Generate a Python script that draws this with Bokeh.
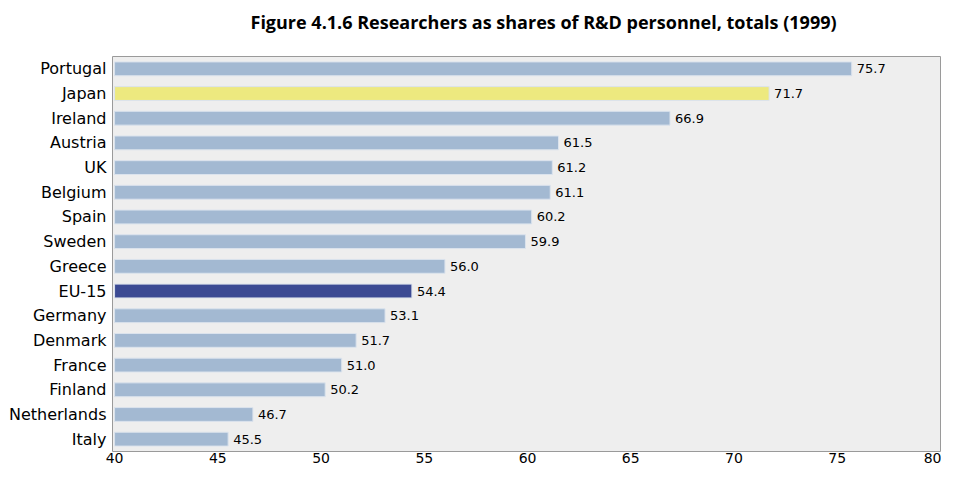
from bokeh.plotting import figure
from bokeh.models import ColumnDataSource, FactorRange, Range1d
from bokeh.embed import file_html
from bokeh.resources import INLINE
from bokeh.core.properties import value

countries = ["Portugal", "Japan", "Ireland", "Austria", "UK", "Belgium", "Spain", "Sweden",
             "Greece", "EU-15", "Germany", "Denmark", "France", "Finland", "Netherlands", "Italy"]
shares = [75.7, 71.7, 66.9, 61.5, 61.2, 61.1, 60.2, 59.9, 56.0, 54.4, 53.1, 51.7, 51.0, 50.2, 46.7, 45.5]
tick_values = [40, 45, 50, 55, 60, 65, 70, 75, 80]

BLUE = "#a3b9d2"
HIGHLIGHT = {"Japan": "#ede97f", "EU-15": "#3b4a93"}
colors = [HIGHLIGHT.get(c, BLUE) for c in countries]
labels = ["%.1f" % v for v in shares]

src = ColumnDataSource(dict(country=countries, share=shares, color=colors, label=labels,
                            base=[40] * len(countries)))

p = figure(width=941, height=465, output_backend="svg", toolbar_location=None,
           y_range=FactorRange(factors=list(reversed(countries)), range_padding=0),
           x_range=Range1d(39.9, 80.0),
           title="Figure 4.1.6 Researchers as shares of R&D personnel, totals (1999)",
           min_border_left=112, min_border_right=1, min_border_top=0, min_border_bottom=0)

p.hbar(y="country", left="base", right="share", height=0.56, color="color",
       line_color="#dbe3ed", line_width=1, source=src)
p.text(x="share", y="country", text="label", source=src, x_offset=5,
       text_baseline="middle", text_align="left", text_font_size="13px",
       text_font=value("DejaVu Sans"), text_color="#000000")

p.title.align = "left"
p.title.offset = 138
p.title.vertical_align = "top"
p.title.padding = (0, 0, 0, 12)
p.title.text_font = "Open Sans"
p.title.text_font_size = "18px"
p.title.text_font_style = "bold"
p.title.text_color = "#000000"
p.title.standoff = 18

p.background_fill_color = "#eeeeee"
p.border_fill_color = "white"
p.outline_line_color = "#9a9a9a"
p.outline_line_width = 1
p.grid.visible = False

for ax in (p.xaxis, p.yaxis):
    ax.axis_line_color = None
    ax.major_tick_line_color = None
    ax.minor_tick_line_color = None
    ax.major_tick_out = 0
    ax.major_tick_in = 0
    ax.minor_tick_out = 0
    ax.minor_tick_in = 0
    ax.major_label_text_font = "DejaVu Sans"
    ax.major_label_text_color = "#000000"

p.xaxis.ticker = tick_values
p.xaxis.major_label_standoff = 1
p.xaxis.major_label_text_font_size = "14px"

p.yaxis.major_label_standoff = 6
p.yaxis.major_label_text_font_size = "16px"

open("out.html", "w").write(file_html(p, INLINE))
